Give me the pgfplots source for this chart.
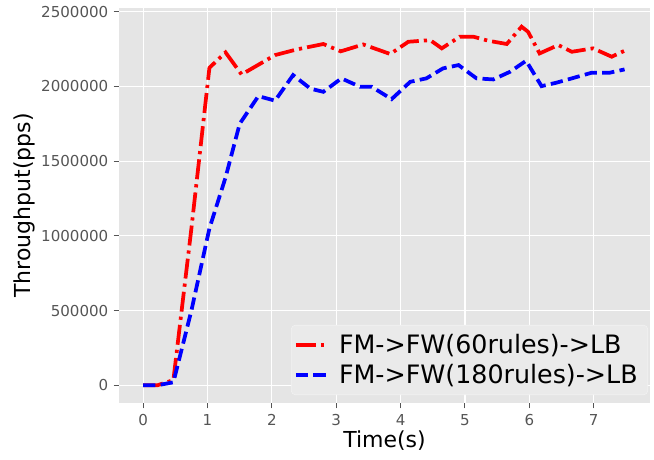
\documentclass[border=0pt]{standalone}
\usepackage{fontspec}
\setmainfont{DejaVu Sans}
\usepackage{pgfplots}
\pgfplotsset{compat=1.18}
\definecolor{bgE}{HTML}{E5E5E5}
\definecolor{tickg}{HTML}{555555}
\definecolor{legbg}{HTML}{EAEAEA}
\definecolor{legedge}{HTML}{F2F2F2}
\begin{document}
\begin{tikzpicture}
\begin{axis}[
  scale only axis,
  width=398.25pt, height=296.25pt,
  xmin=-0.375, xmax=7.875,
  ymin=-118500, ymax=2525000,
  axis background/.style={fill=bgE},
  axis line style={draw=none},
  grid=major,
  major grid style={white, line width=0.9pt},
  xtick={0,1,2,3,4,5,6,7},
  ytick={0,500000,1000000,1500000,2000000,2500000},
  scaled y ticks=false,
  /pgf/number format/fixed,
  /pgf/number format/1000 sep={},
  /pgf/number format/assume math mode=true,
  tick align=outside,
  xtick pos=bottom, ytick pos=left,
  major tick length=4pt,
  tick style={tickg, line width=0.7pt},
  ticklabel style={font=\fontsize{11.3pt}{13pt}\selectfont, text=tickg},
  xticklabel style={yshift=-1pt},
  yticklabel style={xshift=-0.5pt},
  xlabel={Time(s)},
  ylabel={Throughput(pps)},
  label style={font=\fontsize{16.5pt}{19pt}\selectfont},
  xlabel style={at={(axis description cs:0.5,-0.094)}, anchor=center},
  ylabel style={at={(axis description cs:-0.179,0.5)}, anchor=center},
  legend cell align=left,
  legend style={at={(1,0)}, anchor=south east, xshift=-1.5pt, yshift=6pt,
    fill=legbg, draw=legedge, rounded corners=3pt,
    font=\fontsize{19pt}{22pt}\selectfont,
    inner xsep=2pt, inner ysep=5pt,
    row sep=2.25pt,
    nodes={inner xsep=2pt, inner ysep=2pt},
    /tikz/every odd column/.append style={column sep=5pt}},
  legend image code/.code={\draw[#1] (0pt,0pt) -- (24pt,0pt);},
]
\addplot[red, line width=2.8pt, dash pattern=on 15pt off 3.8pt on 2.4pt off 3.8pt] coordinates {
(0,0) (0.22,0) (0.47,35000) (0.75,1050000) (1.03,2125000) (1.28,2228000)
(1.53,2080000) (1.79,2145000) (2.05,2210000) (2.39,2248000) (2.80,2284000)
(3.07,2235000) (3.42,2281000) (3.84,2217000) (4.12,2299000) (4.46,2310000)
(4.64,2255000) (4.92,2333000) (5.13,2333000) (5.36,2306000) (5.65,2284000)
(5.88,2400000) (5.98,2366000) (6.16,2221000) (6.45,2277000) (6.66,2232000)
(6.99,2255000) (7.28,2199000) (7.48,2239000)
};
\addlegendentry{FM->FW(60rules)->LB\kern3.5pt}
\addplot[blue, line width=2.8pt, dash pattern=on 9.2pt off 4pt] coordinates {
(0,0) (0.22,0) (0.47,20000) (0.75,500000) (1.03,1050000) (1.28,1390000)
(1.50,1750000) (1.79,1935000) (2.05,1905000) (2.33,2076000) (2.60,1985000)
(2.80,1964000) (3.08,2054000) (3.37,1998000) (3.55,1998000) (3.86,1915000)
(4.15,2031000) (4.40,2054000) (4.66,2121000) (4.90,2143000) (5.18,2054000)
(5.44,2047000) (5.70,2098000) (5.95,2172000) (6.19,2002000) (6.42,2025000)
(6.66,2054000) (6.97,2092000) (7.25,2092000) (7.48,2114000)
};
\addlegendentry{FM->FW(180rules)->LB\kern3.5pt}
\coordinate (bl) at (rel axis cs:0,0);
\coordinate (tr) at (rel axis cs:1,1);
\end{axis}
\pgfresetboundingbox
\useasboundingbox ([xshift=-89.25pt, yshift=-42pt]bl) rectangle ([xshift=3pt, yshift=6pt]tr);
\end{tikzpicture}
\end{document}
